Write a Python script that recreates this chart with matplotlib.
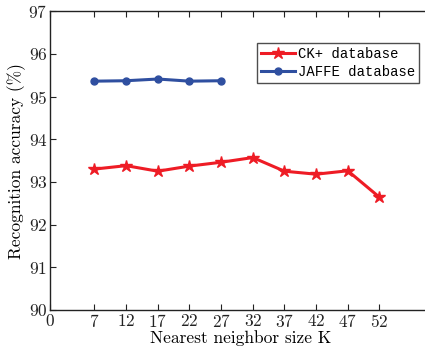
import matplotlib
matplotlib.use('Agg')
import matplotlib.pyplot as plt

# data
k_ck = [7, 12, 17, 22, 27, 32, 37, 42, 47, 52]
acc_ck = [93.30, 93.38, 93.25, 93.37, 93.46, 93.57, 93.25, 93.18, 93.26, 92.64]
k_jaffe = [7, 12, 17, 22, 27]
acc_jaffe = [95.36, 95.37, 95.41, 95.36, 95.37]
xticks = [0, 7, 12, 17, 22, 27, 32, 37, 42, 47, 52]
yticks = [90, 91, 92, 93, 94, 95, 96, 97]

plt.rcParams['font.family'] = 'cmr10'
plt.rcParams['axes.formatter.use_mathtext'] = True

fig = plt.figure(figsize=(4.25, 3.49), dpi=100)
ax = fig.add_axes([0.118, 0.112, 0.894, 0.856])

ax.plot(k_ck, acc_ck, color='#ee1c25', lw=2.2, marker='*', ms=9,
        label='CK+ database')
ax.plot(k_jaffe, acc_jaffe, color='#2f4fa0', lw=2.2, marker='o', ms=5,
        label='JAFFE database')

ax.set_xlim(0, 60)
ax.set_ylim(90, 97)
ax.set_xticks(xticks)
ax.set_yticks(yticks)
ax.tick_params(direction='in', top=True, right=False, labelsize=12.5,
               length=4, width=0.8, colors='#222222', pad=2)
for s in ax.spines.values():
    s.set_color('#222222')
    s.set_linewidth(1.0)

ax.set_xlabel('Nearest neighbor size K', fontsize=12.5, labelpad=0)
ax.set_ylabel('Recognition accuracy (%)', fontsize=12.5, labelpad=2)

leg = ax.legend(loc='upper left', bbox_to_anchor=(0.545, 0.895),
                prop={'family': 'Liberation Mono', 'size': 10},
                frameon=True, fancybox=False, borderpad=0.3,
                handlelength=2.4, handletextpad=0.2, labelspacing=0.3,
                borderaxespad=0)
leg.get_frame().set_edgecolor('#222222')
leg.get_frame().set_linewidth(1.0)

fig.savefig('out.png', dpi=100)
